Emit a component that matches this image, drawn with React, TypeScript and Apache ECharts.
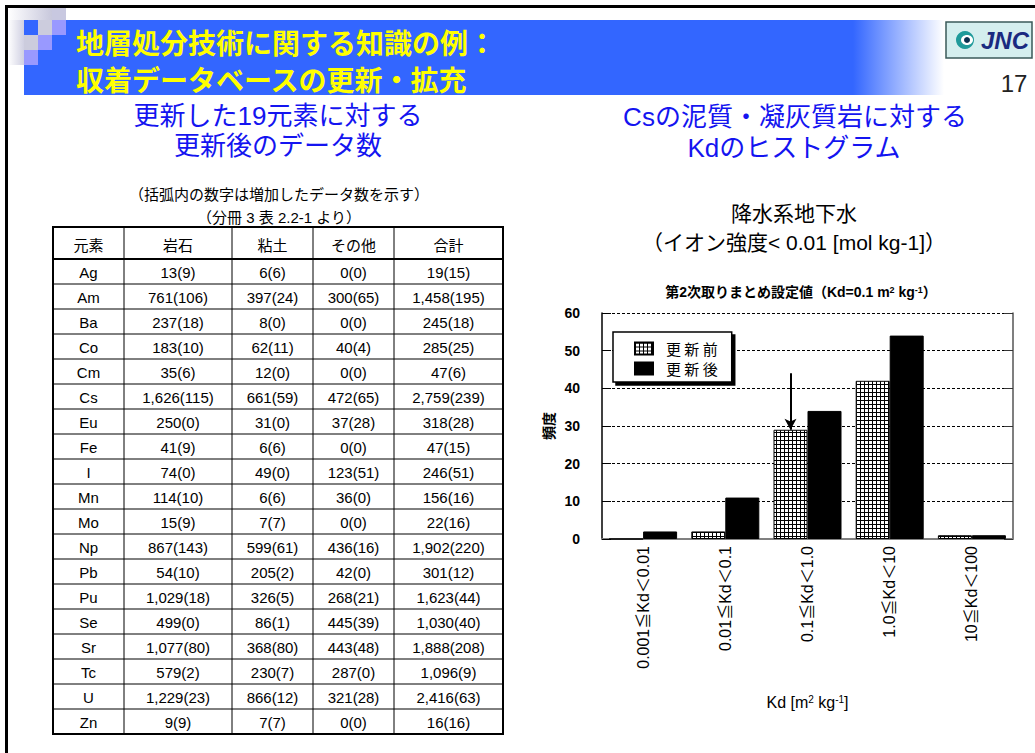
import React, { useEffect, useRef } from "react";
import * as echarts from "echarts";

// ---------------- Chart data ----------------
const categories = ["0.001≦Kd＜0.01", "0.01≦Kd＜0.1", "0.1≦Kd＜1.0", "1.0≦Kd＜10", "10≦Kd＜100"];
const seriesNames = ["更新前", "更新後"];
const beforeValues = [0, 2, 29, 42, 1];
const afterValues = [2, 11, 34, 54, 1];
const yMin = 0;
const yMax = 60;
const yInterval = 10;
// arrow marking the H12 setting value (category index, from, to)
const arrowCategory = 2;
const arrowFrom = 44;
const arrowTo = 29;

// ---------------- Table data ----------------
const tableHeaders = ["元素", "岩石", "粘土", "その他", "合計"];
const elementNames = ["Ag", "Am", "Ba", "Co", "Cm", "Cs", "Eu", "Fe", "I", "Mn", "Mo", "Np", "Pb", "Pu", "Se", "Sr", "Tc", "U", "Zn"];
const rockTotal = [13, 761, 237, 183, 35, 1626, 250, 41, 74, 114, 15, 867, 54, 1029, 499, 1077, 579, 1229, 9];
const rockAdded = [9, 106, 18, 10, 6, 115, 0, 9, 0, 10, 9, 143, 10, 18, 0, 80, 2, 23, 9];
const clayTotal = [6, 397, 8, 62, 12, 661, 31, 6, 49, 6, 7, 599, 205, 326, 86, 368, 230, 866, 7];
const clayAdded = [6, 24, 0, 11, 0, 59, 0, 6, 0, 6, 7, 61, 2, 5, 1, 80, 7, 12, 7];
const otherTotal = [0, 300, 0, 40, 0, 472, 37, 0, 123, 36, 0, 436, 42, 268, 445, 443, 287, 321, 0];
const otherAdded = [0, 65, 0, 4, 0, 65, 28, 0, 51, 0, 0, 16, 0, 21, 39, 48, 0, 28, 0];
const sumTotal = [19, 1458, 245, 285, 47, 2759, 318, 47, 246, 156, 22, 1902, 301, 1623, 1030, 1888, 1096, 2416, 16];
const sumAdded = [15, 195, 18, 25, 6, 239, 28, 15, 51, 16, 16, 220, 12, 44, 40, 208, 9, 63, 16];

// ---------------- Texts ----------------
const titleLine1 = "地層処分技術に関する知識の例：";
const titleLine2 = "収着データベースの更新・拡充";
const pageNumber = "17";
const leftSub1 = "更新した19元素に対する";
const leftSub2 = "更新後のデータ数";
const rightSub1 = "Csの泥質・凝灰質岩に対する";
const rightSub2 = "Kdのヒストグラム";
const noteLine1 = "（括弧内の数字は増加したデータ数を示す）";
const noteLine2 = "（分冊 3 表 2.2-1 より）";
const chartHead1 = "降水系地下水";
const chartHead2 = "（イオン強度< 0.01 [mol kg-1]）";

const JP = '"Noto Sans CJK JP", sans-serif';
const MIX = '"Liberation Sans", "Noto Sans CJK JP", sans-serif';

const fmt = (t: number, a: number) => `${t.toLocaleString("en-US")}(${a})`;

function makeGridPattern(): string {
  const c = document.createElement("canvas");
  c.width = 4;
  c.height = 4;
  const ctx = c.getContext("2d")!;
  ctx.fillStyle = "#ffffff";
  ctx.fillRect(0, 0, 4, 4);
  ctx.fillStyle = "#000000";
  ctx.fillRect(0, 0, 4, 1);
  ctx.fillRect(0, 0, 1, 4);
  return c.toDataURL();
}

function text(t: string, x: number, y: number, fontSize: number, extra: any = {}) {
  return {
    type: "text",
    x,
    y,
    silent: true,
    style: {
      text: t,
      fontSize,
      fontFamily: MIX,
      fill: "#000",
      align: "center",
      verticalAlign: "middle",
      ...extra,
    },
  };
}

function buildGraphics(): any[] {
  const g: any[] = [];
  // slide frame
  g.push({ type: "rect", silent: true, shape: { x: 5, y: 5, width: 1035, height: 3 }, style: { fill: "#000" } });
  g.push({ type: "rect", silent: true, shape: { x: 5, y: 5, width: 3, height: 760 }, style: { fill: "#000" } });
  // header band
  g.push({
    type: "rect",
    silent: true,
    shape: { x: 24, y: 20, width: 1011, height: 75 },
    style: {
      fill: new echarts.graphic.LinearGradient(0, 0, 1, 0, [
        { offset: 0, color: "#3366ff" },
        { offset: 0.82, color: "#3366ff" },
        { offset: 0.91, color: "#ffffff" },
        { offset: 1, color: "#ffffff" },
      ]),
    },
  });
  // decorative squares
  g.push({
    type: "rect", silent: true, shape: { x: 8, y: 8, width: 44, height: 12 },
    style: { fill: new echarts.graphic.LinearGradient(0, 0, 1, 0, [{ offset: 0, color: "#ffffff" }, { offset: 1, color: "#c8c8dc" }]) },
  });
  g.push({
    type: "rect", silent: true, shape: { x: 8, y: 20, width: 16, height: 45 },
    style: { fill: new echarts.graphic.LinearGradient(0, 0, 1, 0, [{ offset: 0, color: "#ffffff" }, { offset: 1, color: "#d0d0e2" }]) },
  });
  const sq = (x: number, y: number, w: number, h: number, c: string) =>
    g.push({ type: "rect", silent: true, shape: { x, y, width: w, height: h }, style: { fill: c } });
  sq(52, 8, 14, 12, "#c8c8e0");
  sq(38, 20, 14, 15, "#ccccdd");
  sq(52, 20, 14, 15, "#9999ff");
  sq(24, 35, 14, 15, "#ccccdd");
  sq(38, 35, 14, 15, "#9999ff");
  sq(24, 50, 14, 15, "#9999ff");
  // title
  g.push(text(titleLine1, 76, 42, 28, { fill: "#ffff00", fontWeight: "bold", fontFamily: JP, align: "left" }));
  g.push(text(titleLine2, 76, 79, 28, { fill: "#ffff00", fontWeight: "bold", fontFamily: JP, align: "left" }));
  // JNC logo
  g.push({
    type: "rect", silent: true, shape: { x: 946, y: 22, width: 86, height: 36 },
    style: { fill: "#d4eeee", stroke: "#3a5a5a", lineWidth: 1.5 },
  });
  g.push({ type: "circle", silent: true, shape: { cx: 965, cy: 40, r: 9 }, style: { fill: "#1f9a9a" } });
  g.push({ type: "ellipse", silent: true, shape: { cx: 967, cy: 40, rx: 6, ry: 5 }, style: { fill: "#ffffff" } });
  g.push({ type: "circle", silent: true, shape: { cx: 967, cy: 40, r: 3 }, style: { fill: "#0b3050" } });
  g.push(text("JNC", 1005, 40, 24, { fill: "#1a2a80", fontWeight: "bold", fontStyle: "italic", fontFamily: '"Liberation Sans", sans-serif' }));
  g.push(text(pageNumber, 1014, 83, 24, { fill: "#222", fontFamily: '"Liberation Sans", sans-serif' }));
  // subtitles
  const blue = "#1414f0";
  g.push(text(leftSub1, 278, 116, 26, { fill: blue }));
  g.push(text(leftSub2, 278, 146, 26, { fill: blue }));
  g.push(text(rightSub1, 795, 117, 26, { fill: blue }));
  g.push(text(rightSub2, 794, 148, 26, { fill: blue }));
  // notes
  g.push(text(noteLine1, 279, 194, 15));
  g.push(text(noteLine2, 279, 217, 15));
  // chart heading
  g.push(text(chartHead1, 794, 213, 21));
  g.push(text(chartHead2, 794, 242, 21));
  g.push({
    type: "text", x: 801, y: 292, silent: true,
    style: {
      text: "{a|第2次取りまとめ設定値（Kd=0.1 m}{s|2}{a| kg}{s|-1}{a|）}",
      align: "center", verticalAlign: "middle",
      rich: {
        a: { fontSize: 14, fontWeight: "bold", fontFamily: MIX, fill: "#000", color: "#000" },
        s: { fontSize: 9, fontWeight: "bold", fontFamily: MIX, fill: "#000", color: "#000", verticalAlign: "top" },
      },
    },
  });
  // table
  const colX = [53, 124, 232, 313, 394, 503];
  const top = 227;
  const headH = 32;
  const rowH = 25;
  const bottom = top + headH + rowH * elementNames.length;
  for (let i = 0; i < elementNames.length; i++) {
    const y = top + headH + rowH * i;
    g.push({ type: "line", silent: true, shape: { x1: colX[0], y1: y, x2: colX[5], y2: y }, style: { stroke: "#000", lineWidth: i === 0 ? 2 : 1 } });
  }
  for (let c = 1; c < colX.length - 1; c++) {
    g.push({ type: "line", silent: true, shape: { x1: colX[c], y1: top, x2: colX[c], y2: bottom }, style: { stroke: "#000", lineWidth: 1 } });
  }
  g.push({
    type: "rect", silent: true, shape: { x: colX[0], y: top, width: colX[5] - colX[0], height: bottom - top },
    style: { fill: "none", stroke: "#000", lineWidth: 2 },
  });
  const cx = (c: number) => (colX[c] + colX[c + 1]) / 2;
  tableHeaders.forEach((h, c) => g.push(text(h, cx(c), top + headH / 2 + 2, 15)));
  elementNames.forEach((el, r) => {
    const y = top + headH + rowH * r + rowH / 2 + 1;
    const cells = [
      el,
      fmt(rockTotal[r], rockAdded[r]),
      fmt(clayTotal[r], clayAdded[r]),
      fmt(otherTotal[r], otherAdded[r]),
      fmt(sumTotal[r], sumAdded[r]),
    ];
    cells.forEach((t, c) => g.push(text(t, cx(c), y, 15)));
  });
  return g;
}

function buildOption(): any {
  const pattern = { image: makeGridPattern(), repeat: "repeat", imageWidth: 4, imageHeight: 4 };
  return {
    animation: false,
    backgroundColor: "#ffffff",
    textStyle: { fontFamily: MIX },
    grid: { left: 602, top: 313, width: 411, height: 226, containLabel: false },
    legend: {
      orient: "vertical",
      left: 613,
      top: 332,
      itemWidth: 18,
      itemHeight: 12,
      itemGap: 5,
      padding: [9, 14, 6, 21],
      backgroundColor: "#ffffff",
      borderColor: "#000",
      borderWidth: 1.5,
      borderRadius: 0,
      shadowColor: "#000",
      shadowBlur: 0,
      shadowOffsetX: 3,
      shadowOffsetY: 3,
      selectedMode: false,
      icon: "rect",
      data: seriesNames,
      formatter: (n: string) => n.split("").join(" "),
      textStyle: { fontSize: 15, color: "#000", fontFamily: JP, padding: [0, 0, 0, 8] },
      z: 10,
    },
    xAxis: {
      type: "category",
      data: categories,
      axisTick: { show: false },
      axisLine: { show: true, lineStyle: { color: "#808080", width: 2 } },
      axisLabel: { rotate: 90, fontSize: 16, color: "#000", margin: 7, interval: 0, fontFamily: MIX },
      name: "{a|Kd [m}{s|2}{a| kg}{s|-1}{a|]}",
      nameLocation: "middle",
      nameGap: 155,
      nameTextStyle: {
        rich: {
          a: { fontSize: 16, color: "#000", fontFamily: MIX },
          s: { fontSize: 10, color: "#000", fontFamily: MIX, verticalAlign: "top" },
        },
      },
    },
    yAxis: [
      {
        type: "value",
        min: yMin,
        max: yMax,
        interval: yInterval,
        axisLine: { show: true, lineStyle: { color: "#000", width: 1.5 } },
        axisTick: { show: true, inside: true, length: 9, lineStyle: { color: "#000" } },
        axisLabel: { fontSize: 14, fontWeight: "bold", color: "#000", margin: 22, fontFamily: MIX },
        splitLine: { show: true, lineStyle: { color: "#000", type: [3, 2], width: 1 } },
        name: "頻度",
        nameLocation: "middle",
        nameRotate: 90,
        nameGap: 47,
        nameTextStyle: { fontSize: 14, fontWeight: "bold", color: "#000", fontFamily: JP },
      },
      {
        type: "value",
        position: "right",
        min: yMin,
        max: yMax,
        interval: yInterval,
        axisLine: { show: true, lineStyle: { color: "#555", width: 1.5 } },
        axisTick: { show: true, inside: true, length: 9, lineStyle: { color: "#333" } },
        axisLabel: { show: false },
        splitLine: { show: false },
      },
    ],
    series: [
      {
        name: seriesNames[0],
        type: "bar",
        data: beforeValues,
        barWidth: 34,
        barGap: "0%",
        itemStyle: { color: pattern, borderColor: "#000", borderWidth: 1 },
        markLine: {
          silent: true,
          symbol: ["none", "arrow"],
          symbolSize: [9, 11],
          label: { show: false },
          lineStyle: { color: "#000", width: 2, type: "solid" },
          emphasis: { disabled: true },
          data: [[{ coord: [arrowCategory, arrowFrom] }, { coord: [arrowCategory, arrowTo] }]],
        },
      },
      {
        name: seriesNames[1],
        type: "bar",
        data: afterValues,
        barWidth: 34,
        barGap: "0%",
        itemStyle: { color: "#000", borderColor: "#000", borderWidth: 1 },
      },
    ],
    graphic: { elements: buildGraphics() },
  };
}

export default function App() {
  const ref = useRef<HTMLDivElement>(null);
  useEffect(() => {
    const chart = echarts.init(ref.current!, null, { renderer: "svg" });
    chart.setOption(buildOption());
    return () => chart.dispose();
  }, []);
  return (
    <div
      ref={ref}
      style={{ position: "absolute", left: 0, top: 0, width: 1035, height: 753, background: "#fff" }}
    />
  );
}
